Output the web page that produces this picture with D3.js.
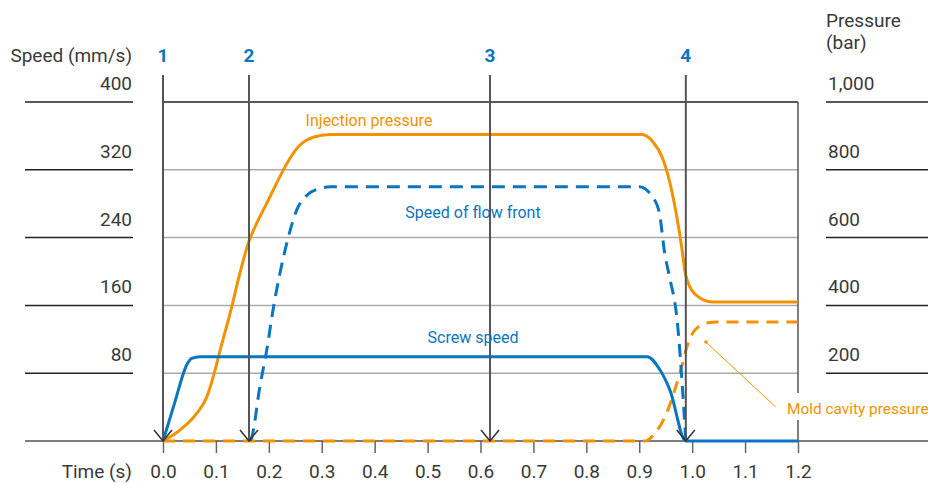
<!DOCTYPE html>
<html><head><meta charset="utf-8">
<script src="https://cdn.jsdelivr.net/npm/d3@7"></script>
<style>
body{margin:0;background:#fff;}
svg{display:block;font-family:Roboto,"DejaVu Sans",sans-serif;}
</style></head>
<body><svg id="c" width="928" height="483"></svg>
<script>
// ---- data ----
const timeTicks = [0,0.1,0.2,0.3,0.4,0.5,0.6,0.7,0.8,0.9,1.0,1.1,1.2];
const speedTicks = [80,160,240,320,400];
const pressureTicks = [200,400,600,800,1000];
const eventLabels = ["1","2","3","4"];
const eventTimes = [0, 0.1625, 0.618, 0.988];

// Screw speed (mm/s)
const screwT = [0, 0.022, 0.045, 0.054, 0.070, 0.5, 0.915, 0.939, 0.958, 0.988, 1.2];
const screwV = [0, 45, 90, 97.5, 99.5, 99.5, 99.5, 84, 60, 0, 0];
// Speed of flow front (mm/s)
const flowT = [0.165, 0.168, 0.183, 0.196, 0.208, 0.221, 0.237, 0.253, 0.272, 0.297, 0.316, 0.6, 0.900, 0.925, 0.938, 0.948, 0.957, 0.971, 0.988];
const flowV = [0, 5, 64, 107, 155, 198, 241, 273, 290, 298, 300, 300, 300, 288, 269, 222, 194, 146, 0];
// Injection pressure (bar)
const injT = [0, 0.032, 0.064, 0.083, 0.095, 0.108, 0.120, 0.130, 0.140, 0.152, 0.161, 0.174, 0.196, 0.221, 0.240, 0.259, 0.284, 0.316, 0.6, 0.905, 0.926, 0.943, 0.958, 0.971, 0.981, 0.986, 0.996, 1.015, 1.039, 1.2];
const injP = [0, 32, 82, 131, 190, 268, 337, 396, 462, 534, 583, 632, 701, 780, 834, 873, 896, 904, 904, 904, 882, 838, 761, 661, 563, 504, 454, 422, 410, 410];
// Mold cavity pressure (bar)
const cavT = [0, 0.5, 0.911, 0.930, 0.952, 0.967, 0.980, 0.990, 1.005, 1.028, 1.047, 1.2];
const cavP = [0, 0, 0, 24, 83, 150, 218, 277, 327, 348, 351, 351];

const ORANGE = "#f39200", BLUE = "#0a76bf", TXT = "#3a3a3a";
const FS = 19;
const svg = d3.select("#c");
const x = d3.scaleLinear([0,1.2],[163,798]);
const yS = d3.scaleLinear([0,400],[441,102]);
const yP = d3.scaleLinear([0,1000],[441,102]);

// gridlines inside
svg.append("g").selectAll("line").data(speedTicks.filter(d=>d<400)).join("line")
  .attr("x1",x(0)).attr("x2",x(1.2)).attr("y1",d=>yS(d)).attr("y2",d=>yS(d))
  .attr("stroke","#aaa").attr("stroke-width",1.5);
// top frame
svg.append("line").attr("x1",x(0)).attr("x2",x(1.2)).attr("y1",yS(400)).attr("y2",yS(400))
  .attr("stroke","#222").attr("stroke-width",1.5);
// right frame
svg.append("line").attr("x1",x(1.2)).attr("x2",x(1.2)).attr("y1",yS(400)).attr("y2",yS(0))
  .attr("stroke","#555").attr("stroke-width",1.5);

// left axis lines & labels
const gl = svg.append("g");
gl.selectAll("line").data(speedTicks).join("line")
  .attr("x1",25).attr("x2",133).attr("y1",d=>yS(d)).attr("y2",d=>yS(d))
  .attr("stroke","#222").attr("stroke-width",1.5);
gl.selectAll("text").data(speedTicks).join("text")
  .attr("x",132).attr("y",d=>yS(d)-12).attr("text-anchor","end")
  .attr("font-size",FS).attr("fill",TXT).text(d=>d);
// right axis
const gr = svg.append("g");
gr.selectAll("line").data(pressureTicks).join("line")
  .attr("x1",826).attr("x2",928).attr("y1",d=>yP(d)).attr("y2",d=>yP(d))
  .attr("stroke","#222").attr("stroke-width",1.5);
gr.selectAll("text").data(pressureTicks).join("text")
  .attr("x",828).attr("y",d=>yP(d)-12)
  .attr("font-size",FS).attr("fill",TXT).text(d=>d3.format(",")(d));

// titles
svg.append("text").attr("x",132).attr("y",62).attr("text-anchor","end").attr("font-size",FS).attr("fill",TXT).text("Speed (mm/s)");
svg.append("text").attr("x",826).attr("y",27).attr("font-size",FS).attr("fill",TXT).text("Pressure");
svg.append("text").attr("x",826).attr("y",49).attr("font-size",FS).attr("fill",TXT).text("(bar)");
svg.append("text").attr("x",132).attr("y",478).attr("text-anchor","end").attr("font-size",FS).attr("fill",TXT).text("Time (s)");

// bottom axis
const xAxis = d3.axisBottom(x).tickValues(timeTicks).tickFormat(d3.format(".1f")).tickSize(12).tickSizeOuter(0);
const ga = svg.append("g").attr("transform",`translate(0,${yS(0)})`).call(xAxis);
ga.select(".domain").remove();
ga.selectAll(".tick line").attr("stroke","#666").attr("stroke-width",1.5);
ga.selectAll(".tick text").attr("font-size",FS).attr("fill",TXT).attr("font-family","Roboto,'DejaVu Sans',sans-serif").attr("dy",null).attr("y",37);
svg.append("line").attr("x1",25).attr("x2",928).attr("y1",yS(0)).attr("y2",yS(0))
  .attr("stroke","#555").attr("stroke-width",1.5);

// curves
const lineS = d3.line().x(d=>x(d[0])).y(d=>yS(d[1])).curve(d3.curveMonotoneX);
const lineP = d3.line().x(d=>x(d[0])).y(d=>yP(d[1])).curve(d3.curveMonotoneX);
const zip = (a,b)=>a.map((v,i)=>[v,b[i]]);

svg.append("path").datum(zip(cavT,cavP)).attr("d",lineP).attr("fill","none")
  .attr("stroke",ORANGE).attr("stroke-width",3).attr("stroke-dasharray","12,8");
svg.append("path").datum(zip(injT,injP)).attr("d",lineP).attr("fill","none")
  .attr("stroke",ORANGE).attr("stroke-width",3);
svg.append("path").datum(zip(flowT,flowV)).attr("d",lineS).attr("fill","none")
  .attr("stroke",BLUE).attr("stroke-width",3).attr("stroke-dasharray","13,8");
svg.append("path").datum(zip(screwT,screwV)).attr("d",lineS).attr("fill","none")
  .attr("stroke",BLUE).attr("stroke-width",3);

// event lines
const ge = svg.append("g");
eventTimes.forEach((t,i)=>{
  const xx = x(t), yb = yS(0);
  ge.append("line").attr("x1",xx).attr("x2",xx).attr("y1",75).attr("y2",yb)
    .attr("stroke","#555").attr("stroke-width",2);
  ge.append("path").attr("d",`M${xx-9},${yb-11}L${xx},${yb}L${xx+9},${yb-11}`)
    .attr("fill","none").attr("stroke","#333").attr("stroke-width",1.5);
  ge.append("text").attr("x",xx).attr("y",62).attr("text-anchor","middle")
    .attr("font-size",FS).attr("font-weight","bold").attr("fill",BLUE).text(eventLabels[i]);
});

// curve labels
svg.append("text").attr("x",369).attr("y",126).attr("text-anchor","middle").attr("font-size",16).attr("fill",ORANGE).text("Injection pressure");
svg.append("text").attr("x",473).attr("y",218).attr("text-anchor","middle").attr("font-size",16).attr("fill",BLUE).text("Speed of flow front");
svg.append("text").attr("x",473).attr("y",343).attr("text-anchor","middle").attr("font-size",16).attr("fill",BLUE).text("Screw speed");

// annotation for mold cavity pressure
svg.append("rect").attr("x",783).attr("y",393).attr("width",145).attr("height",27).attr("fill","#fff");
svg.append("line").attr("x1",x(1.026)).attr("y1",yP(292)).attr("x2",x(1.158)).attr("y2",yP(100))
  .attr("stroke",ORANGE).attr("stroke-width",1);
svg.append("circle").attr("cx",x(1.026)).attr("cy",yP(292)).attr("r",1.8).attr("fill",ORANGE);
svg.append("text").attr("x",787).attr("y",414).attr("font-size",15.4).attr("fill",ORANGE).text("Mold cavity pressure");
</script></body></html>
